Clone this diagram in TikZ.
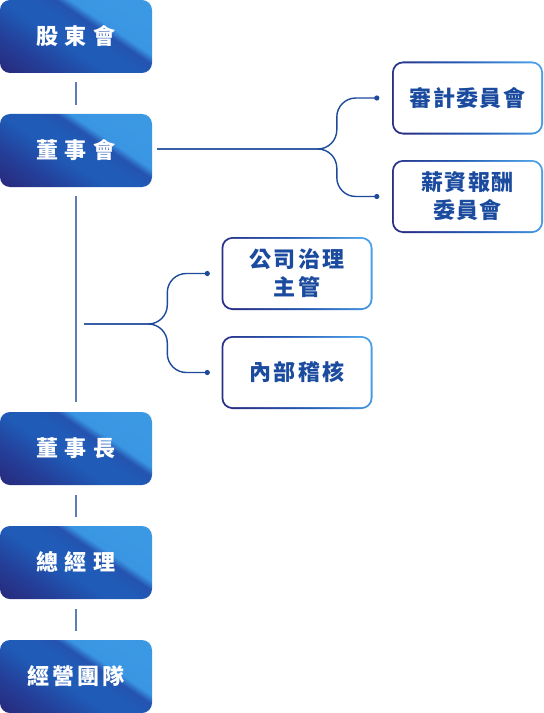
\documentclass[tikz,border=0pt]{standalone}
\usepackage{fontspec}
\newfontfamily\cjk{Noto Sans CJK TC}
\usetikzlibrary{calc}
\definecolor{cdark}{HTML}{28287A}
\definecolor{cdm}{HTML}{243F99}
\definecolor{cmid}{HTML}{1F5BB7}
\definecolor{cmid2}{HTML}{2553B0}
\definecolor{clight}{HTML}{3A96E2}
\definecolor{clight2}{HTML}{3C9AE5}
\definecolor{odark}{HTML}{2A2F85}
\definecolor{omid}{HTML}{2459B3}
\definecolor{olight}{HTML}{4A9FE6}
\definecolor{txtblue}{HTML}{1B4B9F}
\definecolor{brcol}{HTML}{1E4A9A}
\definecolor{vlcol}{HTML}{5D7DB8}
\pgfdeclarehorizontalshading{boxshade}{100bp}{color(0bp)=(cdark); color(27bp)=(cdark); color(37bp)=(cdm); color(46bp)=(cmid); color(52bp)=(cmid); color(56bp)=(cmid2); color(58.5bp)=(clight); color(75bp)=(clight2); color(100bp)=(clight2)}
\pgfdeclarehorizontalshading{oshade}{100bp}{color(0bp)=(odark); color(28bp)=(odark); color(50bp)=(omid); color(72bp)=(olight); color(100bp)=(olight)}
\begin{document}
\begin{tikzpicture}[x=1bp,y=-1bp,
  lbox/.style={minimum width=152bp, minimum height=73bp, inner sep=0pt,
    rounded corners=10bp, text=white,
    font=\cjk\bfseries\fontsize{22bp}{28bp}\selectfont,
    path picture={\shade[shading=boxshade, shading angle=56]
      ([shift={(-80bp,-80bp)}]path picture bounding box.center) rectangle
      ([shift={(80bp,80bp)}]path picture bounding box.center);}},
  obox/.style={minimum width=151bp, minimum height=73bp, inner sep=0pt,
    rounded corners=11bp, text=txtblue, align=center,
    font=\cjk\bfseries\fontsize{22bp}{28bp}\selectfont,
    path picture={\shade[shading=oshade, shading angle=15]
      ([shift={(-80bp,-80bp)}]path picture bounding box.center) rectangle
      ([shift={(80bp,80bp)}]path picture bounding box.center);
      \fill[white, rounded corners=9.5bp]
      ([shift={(1.8bp,-1.8bp)}]path picture bounding box.north west) rectangle
      ([shift={(-1.8bp,1.8bp)}]path picture bounding box.south east);}},
  vl/.style={draw=vlcol, line width=1.3bp},
  br/.style={draw=brcol, line width=1.4bp, rounded corners=19bp},
  dotc/.style={fill=brcol}]
\useasboundingbox[fill=white] (0,0) rectangle (544,713);
% left column
\node[lbox] (b1) at (76,36.5) {股\hspace{7bp}東\hspace{7bp}會};
\node[lbox] (b2) at (76,150.5) {董\hspace{7bp}事\hspace{7bp}會};
\node[lbox] (b3) at (76,448.5) {董\hspace{7bp}事\hspace{7bp}長};
\node[lbox] (b4) at (76,562.5) {總\hspace{7bp}經\hspace{7bp}理};
\node[lbox] (b5) at (76,676.5) {經\hspace{3bp}營\hspace{3bp}團\hspace{3bp}隊};
% right committees
\node[obox] (r1) at (467.5,98) {審\hspace{1.5bp}計\hspace{1.5bp}委\hspace{1.5bp}員\hspace{1.5bp}會};
\node[obox] (r2) at (467.5,196.5) {薪\hspace{1.5bp}資\hspace{1.5bp}報\hspace{1.5bp}酬\\委\hspace{1.5bp}員\hspace{1.5bp}會};
% middle
\node[obox] (m1) at (297,273.5) {公\hspace{2.5bp}司\hspace{2.5bp}治\hspace{2.5bp}理\\主\hspace{2.5bp}管};
\node[obox] (m2) at (297,372.5) {內\hspace{2.5bp}部\hspace{2.5bp}稽\hspace{2.5bp}核};
% vertical connectors
\draw[vl] ([yshift=-9bp]b1.south) -- ([yshift=9bp]b2.north);
\draw[vl] ([yshift=-9bp]b2.south) -- ([yshift=10bp]b3.north);
\draw[vl] ([yshift=-10bp]b3.south) -- ([yshift=9bp]b4.north);
\draw[vl] ([yshift=-10bp]b4.south) -- ([yshift=9bp]b5.north);
% branch from board
\coordinate (s1) at ([xshift=5bp,yshift=1.5bp]b2.east);
\coordinate (d1) at ([xshift=-15bp]r1.west);
\coordinate (d2) at ([xshift=-15bp]r2.west);
\draw[br] (s1) -| ([xshift=-55bp]r1.west) -- (d1);
\draw[br] (s1) -| ([xshift=-55bp]r2.west) -- (d2);
\fill[dotc] (d1) circle (2.6bp);
\fill[dotc] (d2) circle (2.6bp);
% branch to governance
\coordinate (s2) at (84,324);
\coordinate (d3) at ([xshift=-14bp]m1.west);
\coordinate (d4) at ([xshift=-14bp]m2.west);
\draw[br] (s2) -| ([xshift=-54bp]m1.west) -- (d3);
\draw[br] (s2) -| ([xshift=-54bp]m2.west) -- (d4);
\fill[dotc] (d3) circle (2.6bp);
\fill[dotc] (d4) circle (2.6bp);
\end{tikzpicture}
\end{document}
